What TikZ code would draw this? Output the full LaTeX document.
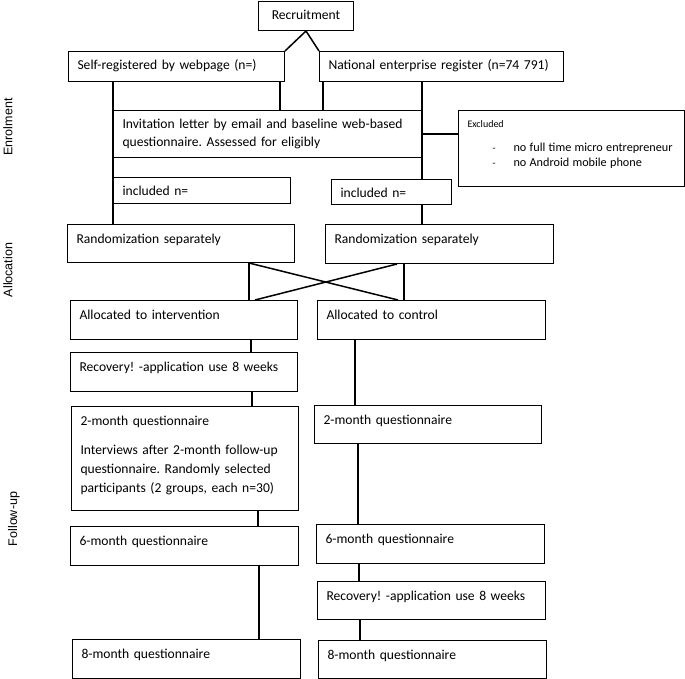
\documentclass[tikz,border=0pt]{standalone}
\usepackage{fontspec}
\setmainfont{Carlito}
\newfontfamily\labelfont{Liberation Sans}
\usetikzlibrary{positioning, calc}
\frenchspacing

\begin{document}
\begin{tikzpicture}[
      x=1pt, y=-1pt,
      box/.style 2 args={draw, line width=1pt, anchor=north west, inner xsep=9pt, inner ysep=0pt,
        align=left, minimum width=#1pt, text width=#1pt-18pt, minimum height=#2pt,
        text height=18.5pt, text depth=#2pt-18.5pt, font=\fontsize{13.6}{19}\selectfont},
      side/.style={rotate=90, font=\labelfont\fontsize{12.5}{14}\selectfont},
      link/.style={line width=1.5pt}
  ]
    \useasboundingbox (0,0) rectangle (685,679);

    % phase labels
    \node[side] (enrol) at (8,127) {Enrolment};
    \node[side] (alloc) at (8,270) {Allocation};
    \node[side] (follow) at (14,519) {Follow-up};

    % enrolment
    \node[box={95}{29}, align=center] (recruit) at (258,1) {Recruitment};
    \node[box={216}{30}] (selfreg) at (68,51) {Self-registered by webpage (n=)};
    \node[box={244}{30}] (natreg) at (319,51) {National enterprise register (n=74 791)};
    \node[box={308}{47}, font=\fontsize{13.6}{18}\selectfont] (invite) at (113,110)
      {Invitation letter by email and baseline web-based\\questionnaire. Assessed for eligibly};
    \node[box={226}{76}, text height=17.5pt, text depth=58.5pt, font=\fontsize{10}{15}\selectfont] (excl) at (458,110)
      {Excluded\\[9pt]
       \hspace*{25pt}\makebox[21pt][l]{-}{\fontsize{12.2}{15}\selectfont no full time micro entrepreneur}\\
       \hspace*{25pt}\makebox[21pt][l]{-}{\fontsize{12.2}{15}\selectfont no Android mobile phone}};
    \node[box={177}{26}] (incl1) at (113,177) {included n=};
    \node[box={120}{25}] (incl2) at (331,179) {included n=};

    % allocation
    \node[box={227}{38}] (rand1) at (67,224) {Randomization separately};
    \node[box={228}{39}] (rand2) at (325,224) {Randomization separately};
    \node[box={227}{39}] (alloc1) at (70,300) {Allocated to intervention};
    \node[box={228}{39}] (alloc2) at (317,300) {Allocated to control};

    % follow-up
    \node[box={227}{39}] (recov1) at (70,352) {Recovery! -application use 8 weeks};
    \node[box={227}{104}] (twom1) at (71,406)
      {2-month questionnaire\\[10pt]
       Interviews after 2-month follow-up\\questionnaire. Randomly selected\\participants (2 groups, each n=30)};
    \node[box={227}{38}] (twom2) at (314,405) {2-month questionnaire};
    \node[box={228}{39}] (sixm1) at (70,526) {6-month questionnaire};
    \node[box={228}{39}] (sixm2) at (316,524) {6-month questionnaire};
    \node[box={228}{38}] (recov2) at (317,581) {Recovery! -application use 8 weeks};
    \node[box={228}{39}] (eightm1) at (72,639) {8-month questionnaire};
    \node[box={228}{38}] (eightm2) at (318,640) {8-month questionnaire};

    % connectors
    \draw[link] (recruit.south) -- (selfreg.north east);
    \draw[link] (recruit.south) -- (natreg.north west);
    \draw[link] (selfreg.south -| invite.west) -- (rand1.north -| invite.west);
    \draw[link] ([xshift=-5pt]selfreg.south east) -- ([xshift=-5pt]selfreg.south east |- invite.north);
    \draw[link] ([xshift=4pt]natreg.south west) -- ([xshift=4pt]natreg.south west |- invite.north);
    \draw[link] (natreg.south -| invite.east) -- (incl2.north -| invite.east);
    \draw[link] (invite.east) -- (invite.east -| excl.west);
    \draw[link] (incl2.south -| invite.east) -- (rand2.north -| invite.east);

    \draw[link] ([xshift=-46pt]rand1.south east) -- ([xshift=-46pt]rand1.south east |- alloc1.north);
    \draw[link] ([xshift=-46pt]rand1.south east) -- ([xshift=-148pt]alloc2.north east);
    \draw[link] ([xshift=-157pt]rand2.south east) -- ([xshift=-43pt]alloc1.north east);
    \draw[link] ([xshift=-150pt]rand2.south east) -- ([xshift=-150pt]rand2.south east |- alloc2.north);

    \draw[link] ([xshift=-47pt]alloc1.south east) -- ([xshift=-47pt]alloc1.south east |- recov1.north);
    \draw[link] ([xshift=-46pt]recov1.south east) -- ([xshift=-46pt]recov1.south east |- twom1.north);
    \draw[link] ([xshift=-41pt]twom1.south east) -- ([xshift=-41pt]twom1.south east |- sixm1.north);
    \draw[link] ([xshift=-40pt]sixm1.south east) -- ([xshift=-40pt]sixm1.south east |- eightm1.north);

    \draw[link] ([xshift=38pt]alloc2.south west) -- ([xshift=38pt]alloc2.south west |- twom2.north);
    \draw[link] ([xshift=44pt]twom2.south west) -- ([xshift=44pt]twom2.south west |- sixm2.north);
    \draw[link] ([xshift=43pt]sixm2.south west) -- ([xshift=43pt]sixm2.south west |- recov2.north);
    \draw[link] ([xshift=43pt]recov2.south west) -- ([xshift=43pt]recov2.south west |- eightm2.north);
\end{tikzpicture}
\end{document}
